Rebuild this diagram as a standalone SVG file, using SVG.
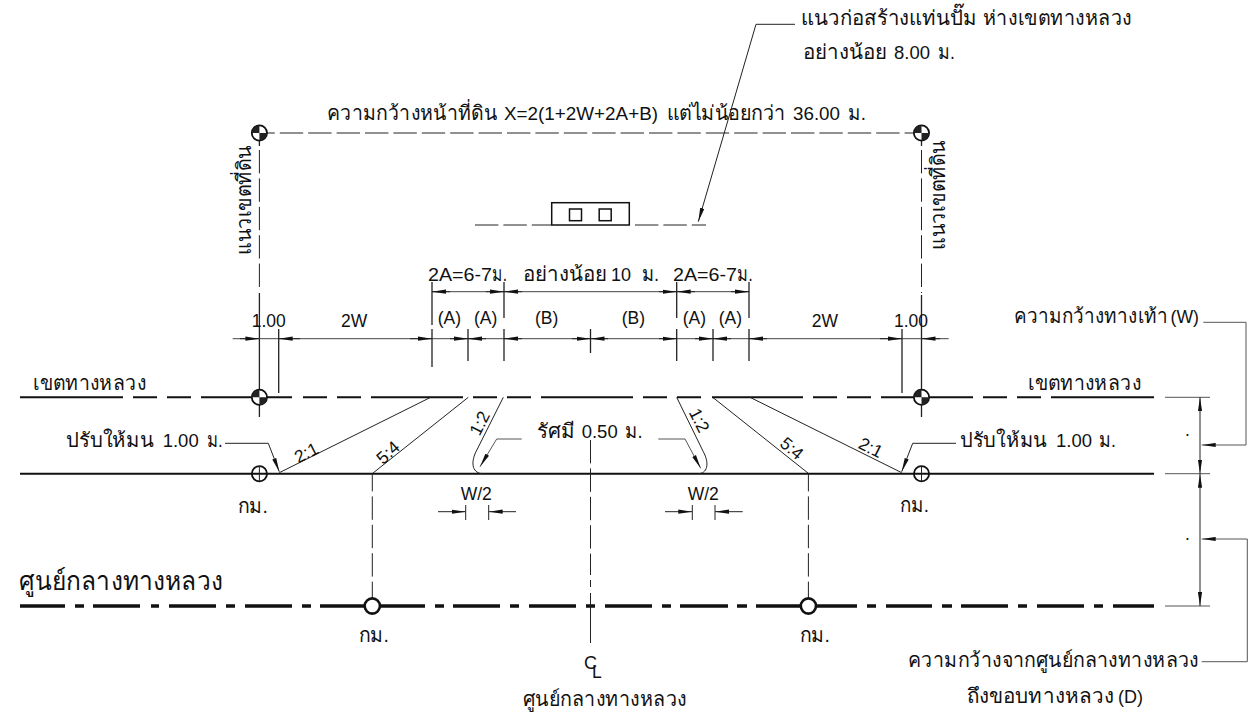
<svg xmlns="http://www.w3.org/2000/svg" width="1250" height="713" viewBox="0 0 1250 713">
<style>
text{font-family:"Liberation Sans","Noto Sans",Arial,sans-serif;font-size:17.5px;fill:#111}
.th{font-size:20.5px}
.l{font-size:18.6px}
.big{font-size:26px}
.t{stroke:#222;stroke-width:1;fill:none}
.g{stroke:#555;stroke-width:1;fill:none}
.k{stroke:#222;stroke-width:1.3;fill:none}
.b{stroke:#111;stroke-width:2;fill:none}
.c{stroke:#111;stroke-width:3.4;fill:none}
.d{stroke:#222;stroke-width:1;fill:none;stroke-dasharray:23.4 5}
.a{stroke:#222;stroke-width:1;fill:none;marker-end:url(#ah)}
.r{fill:none;stroke:#111;stroke-width:1.8}
.m{fill:#222}
</style>
<defs>
<marker id="ah" markerUnits="userSpaceOnUse" markerWidth="14" markerHeight="5" refX="14" refY="2.5" orient="auto"><path d="M0 .4L14 2.5L0 4.6Z" fill="#111"/></marker>
<g id="datum"><circle r="7.6" fill="#fff" stroke="#111" stroke-width="1.8"/><path class="m" d="M0 0V-7.6A7.6 7.6 0 0 0 -7.6 0ZM0 0V7.6A7.6 7.6 0 0 0 7.6 0Z"/></g>
</defs>
<rect width="1250" height="713" fill="#fff"/>

<g id="connectors">
<path class="c" d="M20 606H65M75 606H84M93 606H140M151 606H159M169 606H216M226 606H235M245 606H292M302 606H311M320 606H425M435 606H444M453 606H500M510 606H519M529 606H576M586 606H595M605 606H652M662 606H671M680 606H728M737 606H747M756 606H857M867 606H876M886 606H932M942 606H952M961 606H1008M1018 606H1027M1037 606H1084M1094 606H1103M1113 606H1154"/>
<path class="b" d="M20 397.3H123M133 397.3H157M167 397.3H191M201 397.3H292M303 397.3H327M337 397.3H361M371 397.3H463M473 397.3H497M507 397.3H531M541 397.3H633M643 397.3H667M677 397.3H701M712 397.3H803M813 397.3H837M847 397.3H871M881 397.3H973M983 397.3H1007M1017 397.3H1041M1051 397.3H1154"/>
<path class="b" d="M20 473.7H1154"/>
<path class="g" d="M1165 397.3H1210M1165 473.7H1210M1165 606H1210"/>
<path class="d" d="M251.4 133H918"/>
<path class="d" d="M259.4 150V290M921.5 150V293"/>
<path class="k" d="M259.4 293V417M921.5 295V417M259.4 125V146M921.5 125V146"/>
<path class="d" d="M475 225H551M635 225H706"/>
<path class="d" stroke-dashoffset="6" d="M372.3 474V598M808.4 474V598"/>
<path class="d" d="M590.5 440V575"/>
<path class="t" d="M590.5 580V587M590.5 593V643"/>
<path class="t" d="M430.7 397.3L279.3 472.7M468.3 397.3L372.7 473.3M503.3 397.3L476 451.7C470 464 473 473.7 483.3 473.7M676.7 397.3L703.3 451.7C710 464 707 473.7 698 473.7M712.7 397.3L808.3 473.3M750 397.3L901.7 472.7"/>
<path class="g" style="stroke:#444" d="M232.7 338.7H948.7M432 291.7H749"/>
<path class="k" d="M432 282V325M432 329V367M468 329V361M504 282V318M504 329V361M590.5 329V353M676.7 282V318M676.7 329V361M713 329V361M749 282V318M749 329V361M278.7 329V393M902 329V393"/>
<path class="a" d="M240 338.7H259.4"/><path class="a" d="M300 338.7H278.7"/><path class="a" d="M410 338.7H432"/><path class="a" d="M450 338.7H468"/><path class="a" d="M486 338.7H468"/><path class="a" d="M522 338.7H504"/><path class="a" d="M572 338.7H590.5"/><path class="a" d="M608 338.7H590.5"/><path class="a" d="M659 338.7H676.7"/><path class="a" d="M695 338.7H713"/><path class="a" d="M731 338.7H713"/><path class="a" d="M767 338.7H749"/><path class="a" d="M880 338.7H902"/><path class="a" d="M940 338.7H921.5"/>
<path class="a" d="M450 291.7H432"/><path class="a" d="M486 291.7H504"/><path class="a" d="M522 291.7H504"/><path class="a" d="M659 291.7H676.7"/><path class="a" d="M695 291.7H676.7"/><path class="a" d="M731 291.7H749"/>
<path class="a" d="M438 511.7H465.7"/><path class="a" d="M516 511.7H488.7"/><path class="a" d="M665 511.7H692.3"/><path class="a" d="M742.7 511.7H715"/>
<path class="t" d="M465.7 505V520M488.7 505V520M692.3 505V520M715 505V520"/>
<path class="a" d="M795 24.3H756L698.3 221.7"/>
<path class="a" d="M225 443.3H268.3L279.3 471.7"/>
<path class="a" d="M956 443.3H912.7L901.7 471.7"/>
<path class="a" style="stroke:#555" d="M521.7 439H496.7L480 466.7"/>
<path class="a" style="stroke:#555" d="M658.3 439H685L700.7 468.3"/>
<path class="a" d="M1200 440V397.3"/><path class="a" d="M1200 440V473.7"/><path class="a" d="M1200 540V473.7"/><path class="a" d="M1200 540V606"/>
<path class="a" style="stroke:#555" d="M1203.3 322.3H1246V445H1201.7"/>
<path class="a" style="stroke:#555" d="M1201.7 661.7H1247.3V539H1201.7"/>
</g>

<g id="marker-land-tl"><use href="#datum" x="259.4" y="133"/></g>
<g id="marker-land-tr"><use href="#datum" x="921.5" y="133"/></g>
<g id="marker-row-l"><use href="#datum" x="259.4" y="397.3"/></g>
<g id="marker-row-r"><use href="#datum" x="921.5" y="397.3"/></g>
<g id="marker-km-l"><circle cx="259.4" cy="473.7" r="7.6" class="r"/><path class="t" d="M259.4 466V481.4"/></g>
<g id="marker-km-r"><circle cx="921.5" cy="473.7" r="7.6" class="r"/><path class="t" d="M921.5 466V481.4"/></g>
<g id="marker-center-l"><circle cx="372.3" cy="606" r="7.6" fill="#fff" stroke="#111" stroke-width="2.6"/></g>
<g id="marker-center-r"><circle cx="808.4" cy="606" r="7.6" fill="#fff" stroke="#111" stroke-width="2.6"/></g>
<g id="pump-island">
<rect x="551.7" y="202.7" width="77.6" height="22.3" fill="#fff" stroke="#111" stroke-width="1.5"/>
<rect x="569.5" y="209" width="12" height="11.7" fill="none" stroke="#111" stroke-width="1.5"/>
<rect x="599.2" y="209" width="12" height="11.7" fill="none" stroke="#111" stroke-width="1.5"/>
</g>

<g id="labels">
<text y="119.5"><tspan class="th" x="327" textLength="170" lengthAdjust="spacingAndGlyphs">ความกว้างหน้าที่ดิน</tspan><tspan class="l" x="504" textLength="154" lengthAdjust="spacingAndGlyphs">X=2(1+2W+2A+B)</tspan><tspan class="th" x="666.7" textLength="119" lengthAdjust="spacingAndGlyphs">แต่ไม่น้อยกว่า</tspan><tspan class="l" x="793" textLength="47" lengthAdjust="spacingAndGlyphs">36.00</tspan><tspan class="th" x="848" textLength="18" lengthAdjust="spacingAndGlyphs">ม.</tspan></text>
<text y="25"><tspan class="th" x="801" textLength="176" lengthAdjust="spacingAndGlyphs">แนวก่อสร้างแท่นปั๊ม</tspan><tspan class="th" x="983" textLength="149" lengthAdjust="spacingAndGlyphs">ห่างเขตทางหลวง</tspan></text>
<text y="58.5"><tspan class="th" x="802.7" textLength="84" lengthAdjust="spacingAndGlyphs">อย่างน้อย</tspan><tspan class="l" x="894" textLength="36" lengthAdjust="spacingAndGlyphs">8.00</tspan><tspan class="th" x="938" textLength="17" lengthAdjust="spacingAndGlyphs">ม.</tspan></text>
<text class="th" x="251" y="255" transform="rotate(-90 251 255)" textLength="110" lengthAdjust="spacingAndGlyphs">แนวเขตที่ดิน</text>
<text class="th" x="945" y="250" transform="rotate(-90 945 250)" textLength="110" lengthAdjust="spacingAndGlyphs">แนวเขตที่ดิน</text>
<text y="280.5"><tspan x="428" textLength="64" lengthAdjust="spacingAndGlyphs">2A=6-7</tspan><tspan class="th" x="492" textLength="15" lengthAdjust="spacingAndGlyphs">ม.</tspan></text>
<text y="280.5"><tspan class="th" x="522.7" textLength="84" lengthAdjust="spacingAndGlyphs">อย่างน้อย</tspan><tspan class="l" x="611" textLength="20" lengthAdjust="spacingAndGlyphs">10</tspan><tspan class="th" x="641.7" textLength="17.5" lengthAdjust="spacingAndGlyphs">ม.</tspan></text>
<text y="280.5"><tspan x="673" textLength="64" lengthAdjust="spacingAndGlyphs">2A=6-7</tspan><tspan class="th" x="737" textLength="15.7" lengthAdjust="spacingAndGlyphs">ม.</tspan></text>
<text x="437.7" y="324">(A)</text><text x="474" y="324">(A)</text><text x="535" y="324">(B)</text><text x="621.7" y="324">(B)</text><text x="682.7" y="324">(A)</text><text x="718.7" y="324">(A)</text>
<text x="341" y="326.5">2W</text><text x="811.7" y="326.5">2W</text>
<text x="251.7" y="326.5">1.00</text><text x="894" y="326.5">1.00</text>
<text class="th" x="33" y="390" textLength="113" lengthAdjust="spacingAndGlyphs">เขตทางหลวง</text>
<text class="th" x="1028" y="389.5" textLength="113" lengthAdjust="spacingAndGlyphs">เขตทางหลวง</text>
<text y="447"><tspan class="th" x="66" textLength="88" lengthAdjust="spacingAndGlyphs">ปรับให้มน</tspan><tspan class="l" x="162.7" textLength="36" lengthAdjust="spacingAndGlyphs">1.00</tspan><tspan class="th" x="206.7" textLength="16" lengthAdjust="spacingAndGlyphs">ม.</tspan></text>
<text y="447"><tspan class="th" x="960" textLength="87" lengthAdjust="spacingAndGlyphs">ปรับให้มน</tspan><tspan class="l" x="1056" textLength="36" lengthAdjust="spacingAndGlyphs">1.00</tspan><tspan class="th" x="1099" textLength="17" lengthAdjust="spacingAndGlyphs">ม.</tspan></text>
<text y="438"><tspan class="th" x="536.7" textLength="38" lengthAdjust="spacingAndGlyphs">รัศมี</tspan><tspan class="l" x="581.7" textLength="36" lengthAdjust="spacingAndGlyphs">0.50</tspan><tspan class="th" x="625" textLength="17.7" lengthAdjust="spacingAndGlyphs">ม.</tspan></text>
<text x="460.7" y="500">W/2</text><text x="687.7" y="500">W/2</text>
<text text-anchor="middle" transform="translate(309 458) rotate(-27)">2:1</text>
<text text-anchor="middle" transform="translate(392 457) rotate(-42)">5:4</text>
<text text-anchor="middle" transform="translate(485 426) rotate(-63)">1:2</text>
<text text-anchor="middle" transform="translate(694 423) rotate(63)">1:2</text>
<text text-anchor="middle" transform="translate(788 453) rotate(40)">5:4</text>
<text text-anchor="middle" transform="translate(868 453) rotate(27)">2:1</text>
<text class="th" x="238" y="513" textLength="30" lengthAdjust="spacingAndGlyphs">กม.</text>
<text class="th" x="900" y="512" textLength="29" lengthAdjust="spacingAndGlyphs">กม.</text>
<text class="th" x="359" y="642" textLength="30" lengthAdjust="spacingAndGlyphs">กม.</text>
<text class="th" x="800" y="642" textLength="30" lengthAdjust="spacingAndGlyphs">กม.</text>
<text class="big" x="19" y="590" textLength="204" lengthAdjust="spacingAndGlyphs">ศูนย์กลางทางหลวง</text>
<text x="584" y="669" style="font-size:18px">C</text><text x="592" y="678">L</text>
<text class="th" x="522.7" y="705.5" textLength="164" lengthAdjust="spacingAndGlyphs">ศูนย์กลางทางหลวง</text>
<text y="322.5"><tspan class="th" x="1014" textLength="154" lengthAdjust="spacingAndGlyphs">ความกว้างทางเท้า</tspan><tspan x="1170.5" textLength="28.5" lengthAdjust="spacingAndGlyphs">(W)</tspan></text>
<text class="th" x="908" y="666.5" textLength="291" lengthAdjust="spacingAndGlyphs">ความกว้างจากศูนย์กลางทางหลวง</text>
<text y="703"><tspan class="th" x="967" textLength="147" lengthAdjust="spacingAndGlyphs">ถึงขอบทางหลวง</tspan><tspan x="1118" textLength="25" lengthAdjust="spacingAndGlyphs">(D)</tspan></text>
<text x="1185" y="436">.</text><text x="1185" y="540">.</text>
</g>
</svg>
